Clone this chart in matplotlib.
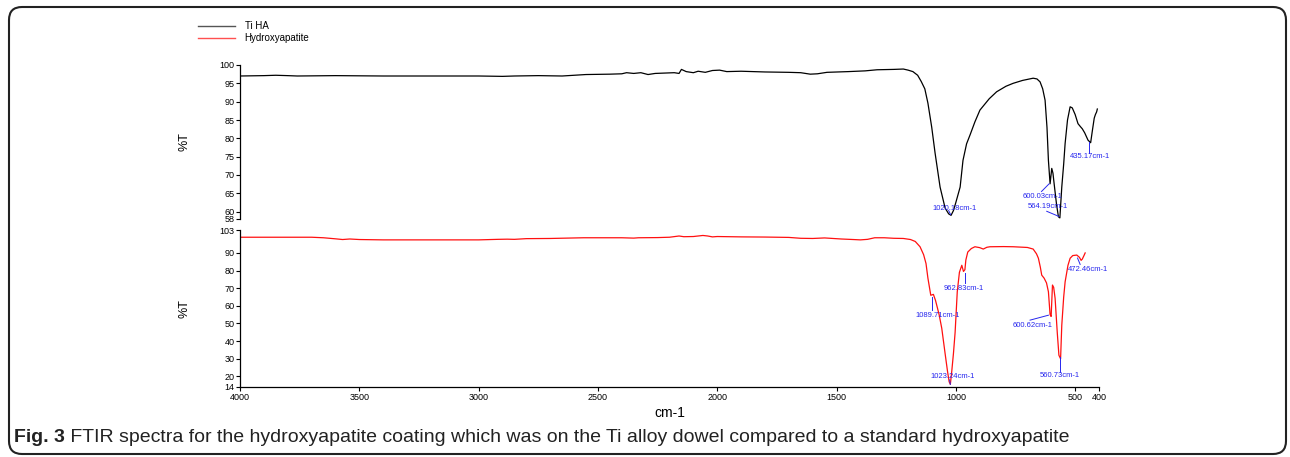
import numpy as np
import matplotlib
matplotlib.use("Agg")
import matplotlib.pyplot as plt
from matplotlib.patches import FancyBboxPatch
from matplotlib.lines import Line2D

plt.rcParams['font.family'] = ['Liberation Sans Narrow', 'Liberation Sans', 'DejaVu Sans']

# Ti HA spectrum (black): wavenumber (cm-1), %T
tiha_wn = [4000, 3900, 3850, 3800, 3760, 3600, 3400, 3200, 3000, 2900, 2850, 2750,
           2650, 2550, 2450, 2400, 2380, 2350, 2320, 2290, 2260, 2220, 2180, 2160,
           2150, 2130, 2100, 2080, 2050, 2020, 1990, 1960, 1900, 1800, 1700, 1650,
           1610, 1580, 1540, 1450, 1380, 1330, 1260, 1220, 1200, 1180, 1160, 1145,
           1130, 1117, 1101, 1087, 1066, 1045, 1030, 1020, 1010, 1000, 982, 970,
           955, 940, 920, 899, 860, 829, 790, 760, 720, 676, 660, 647, 636, 626,
           618, 612, 605, 598, 593, 588, 578, 570, 564, 556, 548, 542, 532, 521,
           512, 500, 488, 478, 470, 460, 446, 435, 428, 420, 415, 410, 407]
tiha_t = [97.0, 97.1, 97.2, 97.1, 97.0, 97.1, 97.0, 97.0, 97.0, 96.9, 97.0, 97.1,
          97.0, 97.4, 97.5, 97.6, 97.9, 97.7, 97.9, 97.4, 97.7, 97.8, 97.9, 97.7,
          98.8, 98.2, 97.9, 98.3, 98.0, 98.5, 98.6, 98.2, 98.3, 98.1, 98.0, 97.9,
          97.5, 97.6, 98.0, 98.2, 98.4, 98.7, 98.8, 98.9, 98.6, 98.2, 97.2, 95.5,
          93.5, 89.6, 83.0, 76.0, 66.7, 61.0, 59.4, 59.0, 60.3, 62.5, 66.7, 74.0,
          78.5, 81.0, 84.5, 87.7, 90.8, 92.7, 94.2, 95.0, 95.8, 96.4, 96.2, 95.4,
          93.5, 90.4, 83.0, 74.0, 67.6, 71.8, 70.5, 67.6, 62.0, 58.6, 58.3, 66.7,
          73.0, 78.6, 85.0, 88.6, 88.3, 86.5, 84.0, 83.2, 82.6, 81.5, 79.5, 78.8,
          82.0, 85.5, 86.5, 87.2, 88.0]

# standard Hydroxyapatite spectrum (red)
ha_wn = [4000, 3800, 3700, 3650, 3600, 3570, 3540, 3500, 3400, 3200, 3000, 2920,
         2880, 2850, 2800, 2700, 2560, 2400, 2350, 2330, 2250, 2200, 2160, 2140,
         2100, 2060, 2040, 2020, 2000, 1900, 1800, 1700, 1650, 1600, 1550, 1480,
         1430, 1400, 1370, 1340, 1300, 1260, 1220, 1190, 1170, 1150, 1135, 1125,
         1117, 1105, 1094, 1085, 1070, 1059, 1045, 1035, 1028, 1023, 1017, 1010,
         1003, 994, 985, 975, 968, 962, 958, 950, 935, 920, 900, 885, 870, 857,
         800, 759, 700, 676, 662, 654, 646, 640, 630, 620, 612, 605, 600.6, 595,
         590, 584, 575, 568, 561, 556, 548, 542, 530, 521, 510, 493, 482, 475,
         470, 463, 458]
ha_t = [98.9, 98.9, 98.9, 98.6, 98.0, 97.6, 97.9, 97.6, 97.4, 97.4, 97.4, 97.7,
        97.8, 97.7, 98.1, 98.2, 98.6, 98.6, 98.4, 98.6, 98.7, 98.9, 99.6, 99.2,
        99.3, 99.9, 99.6, 99.1, 99.3, 99.1, 99.0, 98.8, 98.3, 98.2, 98.5, 97.9,
        97.6, 97.4, 97.7, 98.6, 98.6, 98.3, 98.2, 97.6, 96.5, 93.5, 89.0, 84.0,
        75.7, 66.0, 66.5, 63.0, 55.0, 47.3, 33.0, 23.0, 17.0, 15.5, 23.0, 33.0,
        45.0, 68.0, 79.0, 83.0, 79.5, 80.5, 86.0, 90.5, 92.5, 93.5, 93.0, 92.2,
        93.2, 93.5, 93.6, 93.5, 93.1, 92.2, 89.5, 87.0, 82.0, 77.4, 75.7, 73.0,
        68.0, 55.0, 54.0, 71.8, 70.5, 64.3, 45.0, 32.0, 30.0, 49.0, 65.0, 73.6,
        83.0, 87.0, 88.5, 88.8, 87.5, 85.8, 86.5, 88.5, 90.0]

# peak labels: text, text position (x, y), leader line (x0, y0, x1, y1)
tiha_peaks = [("1020.18cm-1", (1100, 61.0), (1030, 60.3, 1022, 59.2)),
              ("600.03cm-1", (718, 64.2), (641, 65.5, 609, 67.6)),
              ("564.19cm-1", (697, 61.4), (619, 60.1, 568, 58.7)),
              ("435.17cm-1", (521, 75.0), (440, 76.0, 440, 78.9))]
ha_peaks = [("1089.71cm-1", (1171, 54.7), (1100, 57.5, 1100, 65.0)),
            ("962.83cm-1", (1053, 69.9), (963, 72.9, 963, 78.6)),
            ("1023.24cm-1", (1108, 20.2), (1026, 18.0, 1023, 15.5)),
            ("600.62cm-1", (760, 49.0), (689, 51.9, 612, 54.7)),
            ("560.73cm-1", (647, 20.6), (563, 22.5, 563, 31.0)),
            ("472.46cm-1", (530, 80.8), (479, 83.5, 490, 87.1))]

top_ticks = [58, 60, 65, 70, 75, 80, 85, 90, 95, 100]
bot_ticks = [14, 20, 30, 40, 50, 60, 70, 80, 90, 103]
x_ticks = [4000, 3500, 3000, 2500, 2000, 1500, 1000, 500, 400]

W, H = 1290, 457
fig = plt.figure(figsize=(W / 100, H / 100), dpi=100)


def frac(x0, y0, x1, y1):
    return [x0 / W, 1 - y1 / H, (x1 - x0) / W, (y1 - y0) / H]


# full-figure pixel canvas for the rounded frame
bg = fig.add_axes([0, 0, 1, 1])
bg.set_xlim(0, W)
bg.set_ylim(H, 0)
bg.axis('off')
bg.add_patch(FancyBboxPatch((9, 7), 1277, 447,
                            boxstyle='round,pad=0,rounding_size=13',
                            fill=False, edgecolor='#222222', lw=1.5))

ax1 = fig.add_axes(frac(240, 65, 1099, 219))
ax2 = fig.add_axes(frac(240, 230, 1099, 387))

blue = '#2626ee'
for ax, wn, t, col, lim, ticks, peaks in [
        (ax1, tiha_wn, tiha_t, 'black', (58, 100), top_ticks, tiha_peaks),
        (ax2, ha_wn, ha_t, '#ff1010', (14, 103), bot_ticks, ha_peaks)]:
    ax.plot(wn, t, color=col, lw=0.9)
    ax.set_xlim(4000, 400)
    ax.set_ylim(*lim)
    ax.set_yticks(ticks)
    for s in ['top', 'right']:
        ax.spines[s].set_visible(False)
    ax.spines['left'].set_linewidth(0.9)
    ax.tick_params(axis='y', length=3, width=0.8, pad=1, labelsize=6.5)
    ax.set_ylabel('%T', fontsize=9)
    ax.yaxis.set_label_coords(-0.058, 0.5)
    for txt, (tx, ty), (a, b, c, d) in peaks:
        ax.text(tx, ty, txt, color=blue, fontsize=5.5, va='center', ha='left')
        ax.plot([a, c], [b, d], color=blue, lw=0.7)

ax1.spines['bottom'].set_visible(False)
ax1.set_xticks([])
ax2.set_xticks(x_ticks)
ax2.spines['bottom'].set_linewidth(0.9)
ax2.tick_params(axis='x', length=3, width=0.8, pad=1, labelsize=6.5)
ax2.set_xlabel('cm-1', fontsize=10, labelpad=3)

# legend
handles = [Line2D([], [], color='#555555', lw=1.0),
           Line2D([], [], color='#ff5050', lw=1.0)]
fig.legend(handles, ['Ti HA', 'Hydroxyapatite'], loc='upper left',
           bbox_to_anchor=(198 / W, 1 - 21 / H), frameon=False, fontsize=7,
           handlelength=3.8, handletextpad=1.0, labelspacing=0.25,
           borderaxespad=0, borderpad=0)

# caption
t1 = fig.text(14 / W, 1 - 442 / H, 'Fig. 3', fontsize=14, fontweight='bold',
              va='baseline', ha='left', color='#222222')
ax2.annotate(' FTIR spectra for the hydroxyapatite coating which was on the Ti alloy '
             'dowel compared to a standard hydroxyapatite',
             xy=(1, 0), xycoords=t1, va='bottom', ha='left', fontsize=14,
             color='#222222', annotation_clip=False)

fig.savefig('out.png', dpi=100)
